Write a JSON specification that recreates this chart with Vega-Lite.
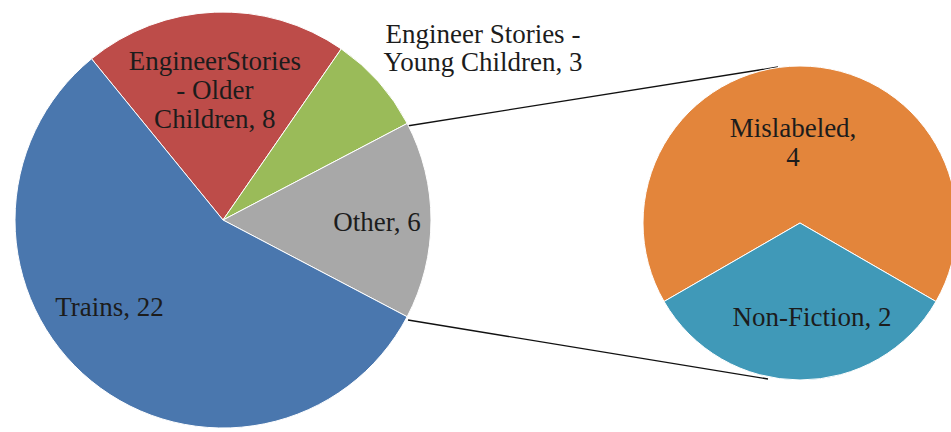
{
  "$schema": "https://vega.github.io/schema/vega-lite/v6.json",
  "width": 951,
  "height": 432,
  "padding": 0,
  "autosize": {"type": "none"},
  "background": "white",
  "config": {"view": {"stroke": null}},
  "data": {"values": [
    {"pie": "main", "category": "EngineerStories - Older Children", "label": "EngineerStories\n- Older\nChildren, 8", "value": 8, "order": 1},
    {"pie": "main", "category": "Engineer Stories - Young Children", "label": "Engineer Stories -\nYoung Children, 3", "value": 3, "order": 2},
    {"pie": "main", "category": "Other", "label": "Other, 6", "value": 6, "order": 3},
    {"pie": "main", "category": "Trains", "label": "Trains, 22", "value": 22, "order": 4},
    {"pie": "sub", "category": "Mislabeled", "label": "Mislabeled,\n4", "value": 4, "order": 1},
    {"pie": "sub", "category": "Non-Fiction", "label": "Non-Fiction, 2", "value": 2, "order": 2}
  ]},
  "encoding": {
    "x": {"field": "pie", "type": "nominal", "scale": {"type": "point", "domain": ["main", "sub"], "range": [223, 800], "padding": 0}, "axis": null},
    "y": {"field": "pie", "type": "nominal", "scale": {"type": "point", "domain": ["main", "sub"], "range": [220, 223], "padding": 0}, "axis": null}
  },
  "layer": [
    {
      "data": {"values": [{}]},
      "mark": {"type": "rule", "color": "#111111", "strokeWidth": 1.3, "xOffset": 184, "yOffset": -94, "x2Offset": -22, "y2Offset": -156},
      "encoding": {
        "x": {"datum": "main", "type": "nominal"},
        "y": {"datum": "main", "type": "nominal"},
        "x2": {"datum": "sub"},
        "y2": {"datum": "sub"}
      }
    },
    {
      "data": {"values": [{}]},
      "mark": {"type": "rule", "color": "#111111", "strokeWidth": 1.3, "xOffset": 185, "yOffset": 100, "x2Offset": -32, "y2Offset": 156},
      "encoding": {
        "x": {"datum": "main", "type": "nominal"},
        "y": {"datum": "main", "type": "nominal"},
        "x2": {"datum": "sub"},
        "y2": {"datum": "sub"}
      }
    },
    {
      "transform": [{"filter": "datum.pie == 'main'"}],
      "mark": {"type": "arc", "outerRadius": 208, "stroke": "#ffffff", "strokeWidth": 1},
      "encoding": {
        "theta": {"field": "value", "type": "quantitative", "stack": true, "scale": {"range": [-0.6842, 5.599]}},
        "order": {"field": "order", "type": "quantitative"},
        "color": {"field": "category", "type": "nominal", "legend": null,
          "scale": {"domain": ["EngineerStories - Older Children", "Engineer Stories - Young Children", "Other", "Trains", "Mislabeled", "Non-Fiction"],
                    "range": ["#BD4C49", "#9ABB59", "#A8A8A8", "#4A77AE", "#E3853B", "#4099B8"]}}
      }
    },
    {
      "transform": [{"filter": "datum.pie == 'sub'"}],
      "mark": {"type": "arc", "outerRadius": 157, "stroke": "#ffffff", "strokeWidth": 1},
      "encoding": {
        "theta": {"field": "value", "type": "quantitative", "stack": true, "scale": {"range": [4.18879, 10.47198]}},
        "order": {"field": "order", "type": "quantitative"},
        "color": {"field": "category", "type": "nominal", "legend": null}
      }
    },
    {
      "transform": [{"filter": "datum.pie == 'main'"}],
      "mark": {"type": "text", "radius": 129, "dx": -3, "dy": -29, "font": "Liberation Serif", "fontSize": 27, "lineBreak": "\n", "lineHeight": 29, "fill": "#1c1c1c", "align": "center", "baseline": "middle"},
      "encoding": {
        "theta": {"field": "value", "type": "quantitative", "stack": true, "scale": {"range": [-0.6842, 5.599]}},
        "order": {"field": "order", "type": "quantitative"},
        "detail": {"field": "category", "type": "nominal"},
        "text": {"condition": {"test": "datum.category == 'EngineerStories - Older Children'", "field": "label", "type": "nominal"}, "value": ""}
      }
    },
    {
      "transform": [{"filter": "datum.pie == 'main'"}],
      "mark": {"type": "text", "radius": 311, "dx": 27, "dy": 21, "font": "Liberation Serif", "fontSize": 27, "lineBreak": "\n", "lineHeight": 28, "fill": "#1c1c1c", "align": "center", "baseline": "middle"},
      "encoding": {
        "theta": {"field": "value", "type": "quantitative", "stack": true, "scale": {"range": [-0.6842, 5.599]}},
        "order": {"field": "order", "type": "quantitative"},
        "detail": {"field": "category", "type": "nominal"},
        "text": {"condition": {"test": "datum.category == 'Engineer Stories - Young Children'", "field": "label", "type": "nominal"}, "value": ""}
      }
    },
    {
      "transform": [{"filter": "datum.pie == 'main'"}],
      "mark": {"type": "text", "radius": 154, "dy": 3, "font": "Liberation Serif", "fontSize": 27, "lineBreak": "\n", "lineHeight": 29, "fill": "#1c1c1c", "align": "center", "baseline": "middle"},
      "encoding": {
        "theta": {"field": "value", "type": "quantitative", "stack": true, "scale": {"range": [-0.6842, 5.599]}},
        "order": {"field": "order", "type": "quantitative"},
        "detail": {"field": "category", "type": "nominal"},
        "text": {"condition": {"test": "datum.category == 'Other'", "field": "label", "type": "nominal"}, "value": ""}
      }
    },
    {
      "transform": [{"filter": "datum.pie == 'main'"}],
      "mark": {"type": "text", "radius": 143, "dx": -23, "dy": -23, "font": "Liberation Serif", "fontSize": 27, "lineBreak": "\n", "lineHeight": 29, "fill": "#1c1c1c", "align": "center", "baseline": "middle"},
      "encoding": {
        "theta": {"field": "value", "type": "quantitative", "stack": true, "scale": {"range": [-0.6842, 5.599]}},
        "order": {"field": "order", "type": "quantitative"},
        "detail": {"field": "category", "type": "nominal"},
        "text": {"condition": {"test": "datum.category == 'Trains'", "field": "label", "type": "nominal"}, "value": ""}
      }
    },
    {
      "transform": [{"filter": "datum.pie == 'sub'"}],
      "mark": {"type": "text", "radius": 80, "dx": -7, "dy": -14, "font": "Liberation Serif", "fontSize": 27, "lineBreak": "\n", "lineHeight": 29, "fill": "#1c1c1c", "align": "center", "baseline": "middle"},
      "encoding": {
        "theta": {"field": "value", "type": "quantitative", "stack": true, "scale": {"range": [4.18879, 10.47198]}},
        "order": {"field": "order", "type": "quantitative"},
        "detail": {"field": "category", "type": "nominal"},
        "text": {"condition": {"test": "datum.category == 'Mislabeled'", "field": "label", "type": "nominal"}, "value": ""}
      }
    },
    {
      "transform": [{"filter": "datum.pie == 'sub'"}],
      "mark": {"type": "text", "radius": 95, "dx": 12, "font": "Liberation Serif", "fontSize": 27, "lineBreak": "\n", "lineHeight": 29, "fill": "#1c1c1c", "align": "center", "baseline": "middle"},
      "encoding": {
        "theta": {"field": "value", "type": "quantitative", "stack": true, "scale": {"range": [4.18879, 10.47198]}},
        "order": {"field": "order", "type": "quantitative"},
        "detail": {"field": "category", "type": "nominal"},
        "text": {"condition": {"test": "datum.category == 'Non-Fiction'", "field": "label", "type": "nominal"}, "value": ""}
      }
    }
  ],
  "resolve": {"scale": {"theta": "independent"}}
}
